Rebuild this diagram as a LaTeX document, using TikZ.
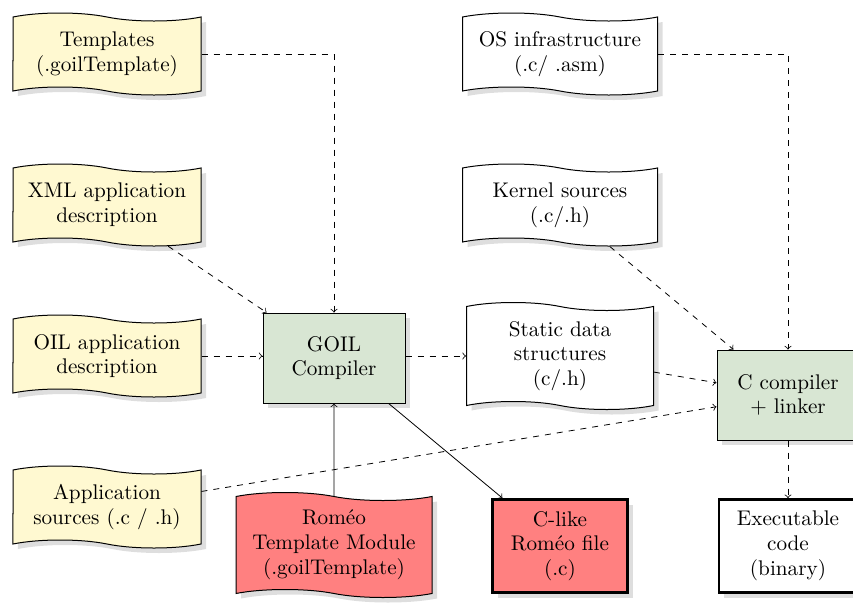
\documentclass[tikz,border=0pt]{standalone}
\usetikzlibrary{shapes.symbols,shadows}
\definecolor{docyellow}{RGB}{255,249,209}
\definecolor{procgreen}{RGB}{216,230,211}
\definecolor{romeored}{RGB}{255,128,128}
\definecolor{shadowgray}{RGB}{222,222,222}
\tikzset{
  shd/.style={drop shadow={shadow xshift=2.5pt,shadow yshift=-2.5pt,fill=shadowgray,opacity=1}},
  doc/.style={tape, draw, shd, align=center, inner sep=2pt, tape bend height=4pt, tape bend top=out and in, tape bend bottom=out and in, line width=0.5pt},
  proc/.style={rectangle, draw, shd, align=center, fill=procgreen, minimum width=71pt, minimum height=45pt, line width=0.5pt},
  outbox/.style={rectangle, draw, shd, align=center, line width=1.4pt, minimum height=46.5pt},
  dl/.style={dashed, ->, line width=0.4pt},
  sl/.style={->, line width=0.4pt},
}
\begin{document}
\begin{tikzpicture}[x=0.5pt,y=-0.5pt, every node/.style={font=\fontsize{10.6}{12.4}\selectfont}]
\useasboundingbox (0,0) rectangle (853,606);
% left column
\node[doc, fill=docyellow, minimum width=94pt, minimum height=41pt] (tmpl) at (107,54) {Templates\\(.goilTemplate)};
\node[doc, fill=docyellow, minimum width=94pt, minimum height=41pt] (xml) at (107,205) {XML application\\description};
\node[doc, fill=docyellow, minimum width=94pt, minimum height=41pt] (oil) at (107,356) {OIL application\\description};
\node[doc, fill=docyellow, minimum width=94pt, minimum height=41pt] (app) at (107,507) {Application\\sources (.c / .h)};
% middle
\node[proc] (goil) at (334,358) {GOIL\\Compiler};
\node[doc, fill=romeored, minimum width=98pt, minimum height=52.5pt] (rtm) at (334,545) {Roméo\\Template Module\\(.goilTemplate)};
% third column
\node[doc, fill=white, minimum width=97.5pt, minimum height=41pt] (os) at (560,54) {OS infrastructure\\(.c/ .asm)};
\node[doc, fill=white, minimum width=97.5pt, minimum height=41pt] (kern) at (560,205) {Kernel sources\\(.c/.h)};
\node[doc, fill=white, minimum width=93.5pt, minimum height=53.5pt] (static) at (560,356) {Static data\\structures\\(c/.h)};
\node[outbox, fill=romeored, minimum width=67.5pt] (clike) at (560,546) {C-like\\Roméo file\\(.c)};
% right column
\node[proc] (cc) at (788,395) {C compiler\\+ linker};
\node[outbox, fill=white, minimum width=69pt] (exe) at (788,546) {Executable\\code\\(binary)};
% connectors
\draw[dl] (tmpl.east) -| (goil.north);
\draw[dl] (xml) -- (goil);
\draw[dl] (oil.east) -- (goil.west |- oil.east);
\draw[dl] (app) -- (cc);
\draw[sl] (rtm) -- (goil);
\draw[sl] (goil) -- (clike);
\draw[dl] (goil.east |- static.west) -- (static.west);
\draw[dl] (static) -- (cc);
\draw[dl] (kern) -- (cc);
\draw[dl] (os.east) -| (cc.north);
\draw[dl] (cc) -- (exe);
\end{tikzpicture}
\end{document}
